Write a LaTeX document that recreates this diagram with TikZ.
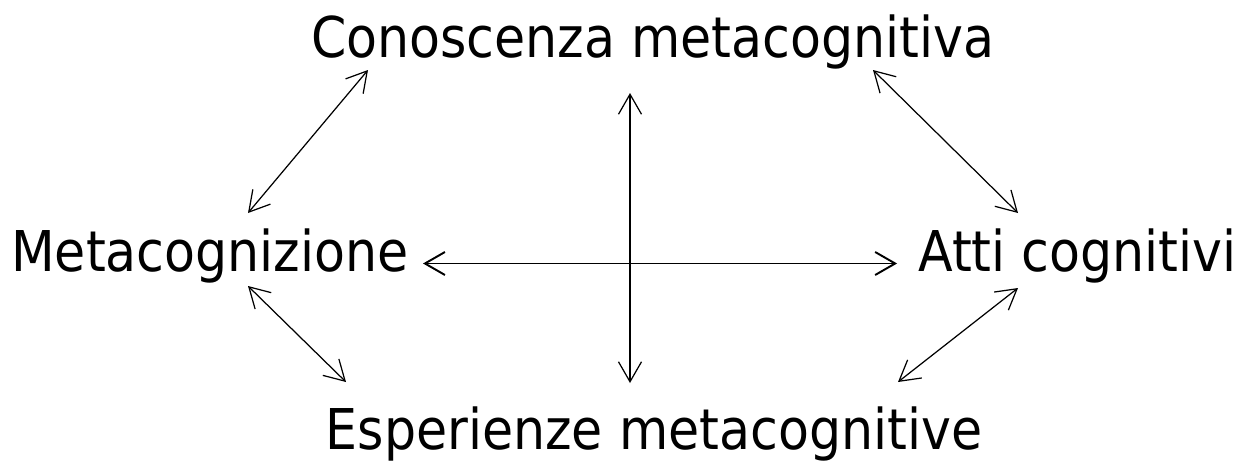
\documentclass[tikz,border=0pt]{standalone}
\usepackage{fontspec}
\setmainfont{DejaVu Sans Condensed}
\usetikzlibrary{arrows.meta}

\begin{document}
\begin{tikzpicture}[
  x=0.02cm,
  y=-0.02cm,
  every node/.style={font=\fontsize{32}{38}\selectfont, inner sep=0pt},
  link/.style={line width=0.7pt, {Straight Barb[length=0.4cm, width=0.46cm]}-{Straight Barb[length=0.4cm, width=0.46cm]}},
  mainlink/.style={link, line width=1.1pt}
]
  \useasboundingbox (0,0) rectangle (1245,461);

  % ---- the four terms ----------------------------------------------------
  \node[anchor=base] (conosc) at (653,57) {Conoscenza metacognitiva};
  \node[anchor=base west] (meta) at (11,271) {Metacognizione};
  \node[anchor=base east] (atti) at (1237,271) {Atti cognitivi};
  \node[anchor=base] (esper) at (654,449) {Esperienze metacognitive};

  % ---- arrow ends --------------------------------------------------------
  \coordinate (meta-up) at (248,213);
  \coordinate (conosc-left) at (368,70);
  \coordinate (conosc-right) at (873,70);
  \coordinate (atti-up) at (1018,213);
  \coordinate (meta-down) at (248,286);
  \coordinate (esper-left) at (346,382);
  \coordinate (atti-down) at (1018,288);
  \coordinate (esper-right) at (898,382);
  \coordinate (axis-top) at (630,93);
  \coordinate (axis-bottom) at (630,383);

  % ---- links -------------------------------------------------------------
  \draw[link] (meta-up) -- (conosc-left);
  \draw[link] (conosc-right) -- (atti-up);
  \draw[link] (meta-down) -- (esper-left);
  \draw[link] (atti-down) -- (esper-right);
  \draw[link] (axis-top) -- (axis-bottom);
  \draw[mainlink] ([xshift=0.28cm, yshift=-0.16cm]meta.east)
    -- ([xshift=-0.42cm, yshift=-0.16cm]atti.west);
\end{tikzpicture}
\end{document}
